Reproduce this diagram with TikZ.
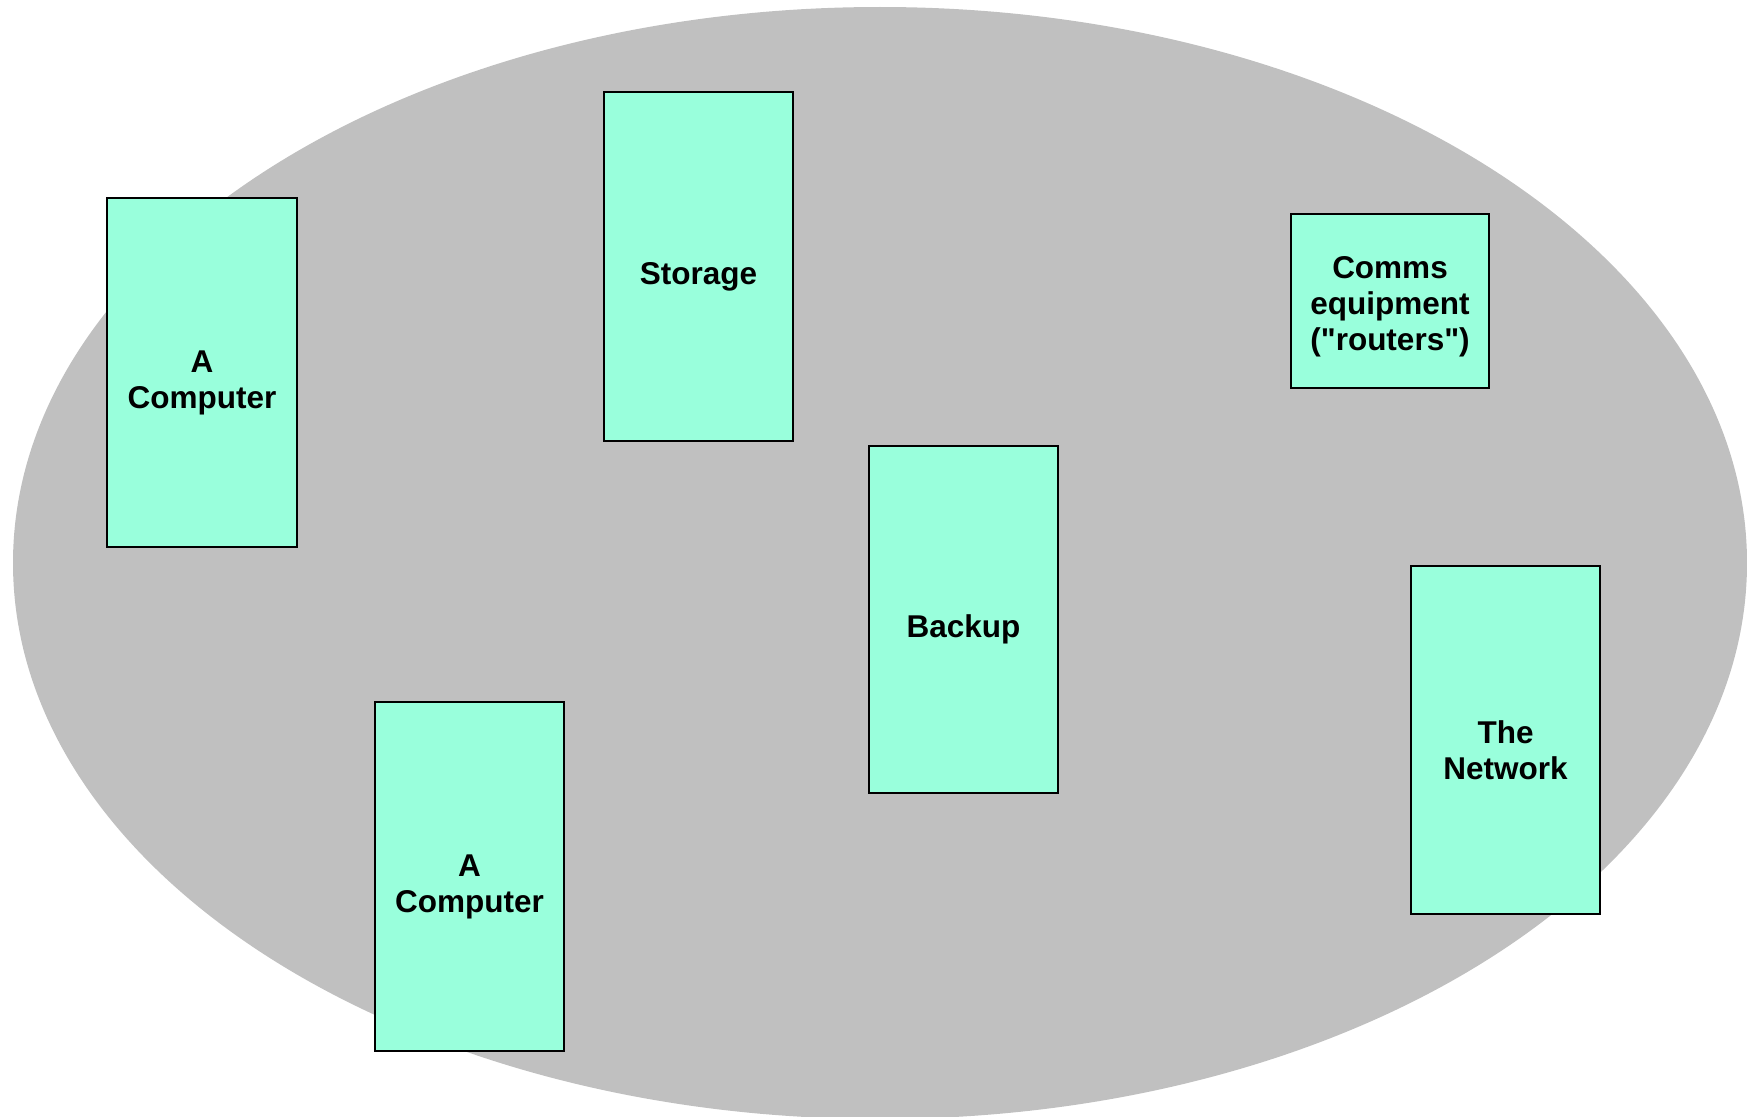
\documentclass[tikz,border=0pt]{standalone}
\usepackage{fontspec}
\setmainfont{Liberation Sans}[Ligatures=TeXOff]
\definecolor{cloudgray}{HTML}{C0C0C0}
\definecolor{boxgreen}{HTML}{99FFDC}
\begin{document}
\begin{tikzpicture}[x=1pt,y=-1pt,
  unit/.style={draw=black, line width=2pt, fill=boxgreen, inner sep=0pt},
  caption/.style={inner sep=0pt, align=center, yshift=-10pt,
    font=\fontsize{31.5}{36}\selectfont\bfseries},
]
\useasboundingbox (0,0) rectangle (1747,1116);
\begin{scope}
  \clip (0,0) rectangle (1747,1116);
  \fill[cloudgray] (880,563) ellipse [x radius=867, y radius=556];
\end{scope}

% the six units, each a box with its caption
\node[unit, minimum width=190pt, minimum height=349pt] (pc1) at (202,372.5) {};
\node[caption] (pc1-text) at (pc1.center) {A\\Computer};

\node[unit, minimum width=189pt, minimum height=349pt] (store) at (698.5,266.5) {};
\node[caption] (store-text) at (store.center) {Storage};

\node[unit, minimum width=198pt, minimum height=174pt] (comms) at (1390,300.5) {};
\node[caption, yshift=4pt] (comms-text) at (comms.center) {Comms\\equipment\\("routers")};

\node[unit, minimum width=189pt, minimum height=347pt] (backup) at (963.5,619.5) {};
\node[caption] (backup-text) at (backup.center) {Backup};

\node[unit, minimum width=189pt, minimum height=348pt] (net) at (1505.5,740) {};
\node[caption] (net-text) at (net.center) {The\\Network};

\node[unit, minimum width=189pt, minimum height=349pt] (pc2) at (469.5,876.5) {};
\node[caption] (pc2-text) at (pc2.center) {A\\Computer};
\end{tikzpicture}
\end{document}
